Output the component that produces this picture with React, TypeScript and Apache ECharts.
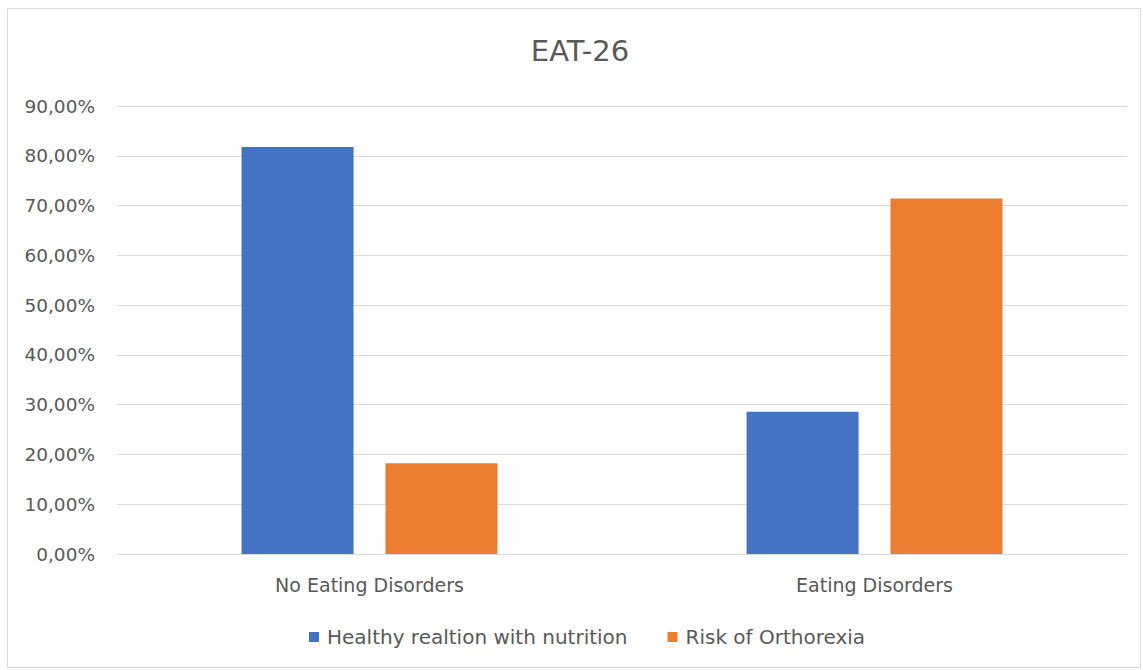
import React, { useEffect, useRef } from "react";
import * as echarts from "echarts";

const categories = ["No Eating Disorders", "Eating Disorders"];
const seriesNames = ["Healthy realtion with nutrition", "Risk of Orthorexia"];
const healthyValues = [81.76, 28.57];
const riskValues = [18.24, 71.43];
const colors = ["#4472C4", "#ED7D31"];

const FONT = "'DejaVu Sans', 'Open Sans', sans-serif";

export default function App() {
  const ref = useRef<HTMLDivElement>(null);
  useEffect(() => {
    if (!ref.current) return;
    const chart = echarts.init(ref.current, undefined, { renderer: "svg" });
    chart.setOption({
      animation: false,
      backgroundColor: "#ffffff",
      textStyle: { fontFamily: FONT },
      title: {
        text: "EAT-26",
        left: 575,
        textAlign: "center",
        top: 31,
        textStyle: { fontSize: 29, fontWeight: "normal", color: "#595959", fontFamily: FONT },
      },
      graphic: [
        {
          type: "rect",
          shape: { x: 7.5, y: 8.5, width: 1133, height: 659 },
          style: { fill: "none", stroke: "#d9d9d9", lineWidth: 1 },
          silent: true,
        },
      ],
      legend: {
        left: 304,
        top: 622,
        icon: "rect",
        itemWidth: 10,
        itemHeight: 10,
        itemGap: 40,
        textStyle: { fontSize: 20, color: "#595959", fontFamily: FONT, padding: [0, 0, 0, 3] },
        data: seriesNames,
      },
      grid: { left: 117, right: 16, top: 106, bottom: 116, containLabel: false },
      xAxis: {
        type: "category",
        data: categories,
        axisLine: { show: true, lineStyle: { color: "#d9d9d9" } },
        axisTick: { show: false },
        axisLabel: { fontSize: 19, color: "#595959", margin: 21, fontFamily: FONT },
      },
      yAxis: {
        type: "value",
        min: 0,
        max: 90,
        interval: 10,
        axisLine: { show: false },
        axisTick: { show: false },
        splitLine: { lineStyle: { color: "#d9d9d9", width: 1 } },
        axisLabel: {
          fontSize: 18.5,
          color: "#595959",
          margin: 22,
          fontFamily: FONT,
          formatter: (v: number) => v.toFixed(2).replace(".", ",") + "%",
        },
      },
      series: [
        {
          name: seriesNames[0],
          type: "bar",
          data: healthyValues,
          barWidth: 112,
          barGap: "28.5%",
          itemStyle: { color: colors[0] },
        },
        {
          name: seriesNames[1],
          type: "bar",
          data: riskValues,
          barWidth: 112,
          barGap: "28.5%",
          itemStyle: { color: colors[1] },
        },
      ],
    });
    return () => chart.dispose();
  }, []);
  return (
    <div
      ref={ref}
      style={{ position: "absolute", left: 0, top: 0, width: 1143, height: 670 }}
    />
  );
}
